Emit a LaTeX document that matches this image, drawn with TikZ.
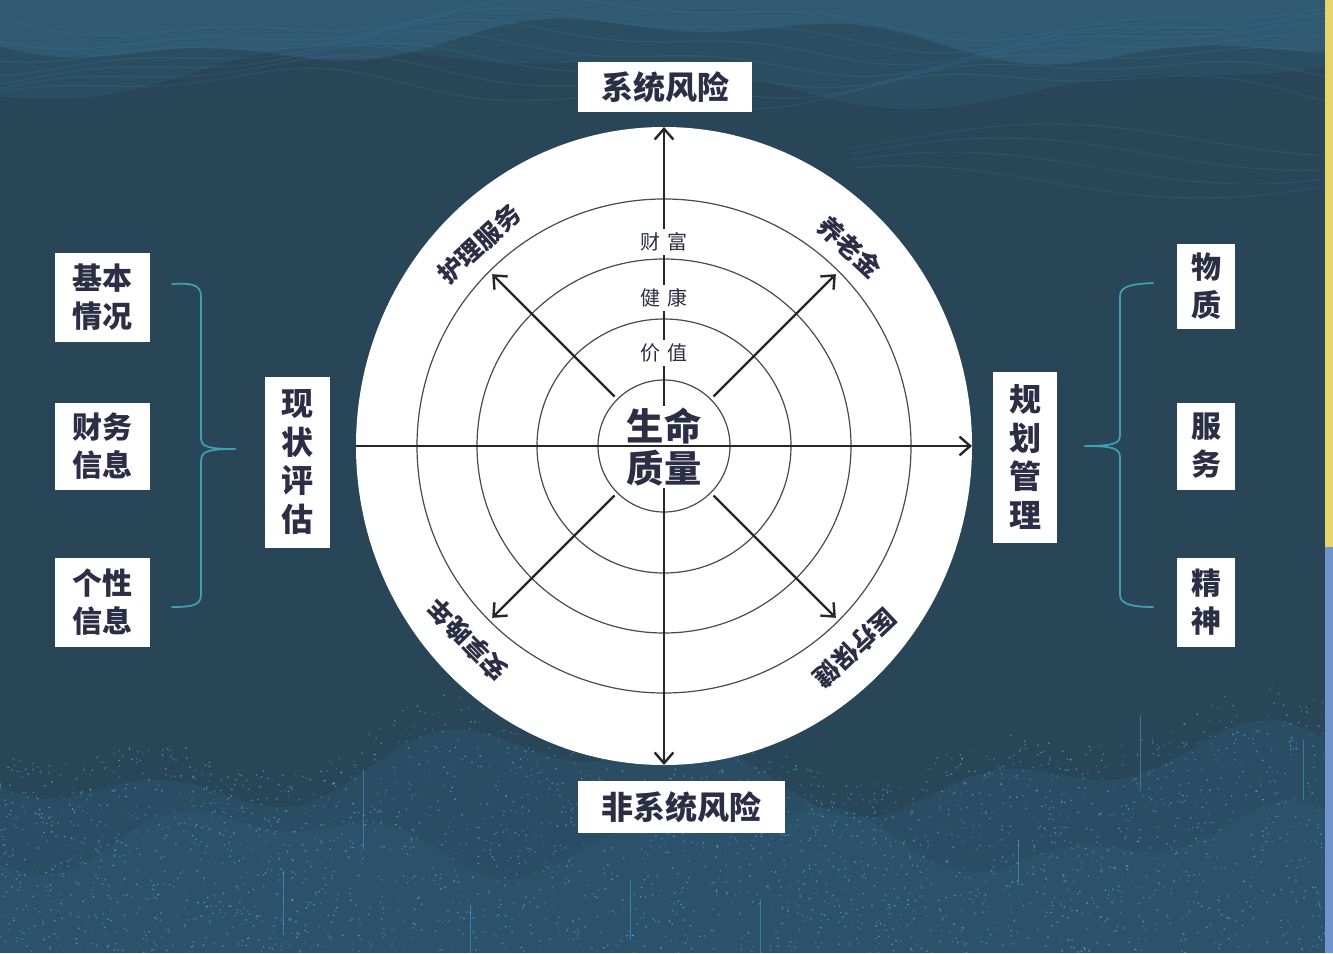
\documentclass[tikz,border=0pt]{standalone}
\usepackage{fontspec}
\setmainfont{Noto Sans CJK SC}
\usetikzlibrary{calc,arrows.meta}
\definecolor{bgc}{HTML}{284658}
\definecolor{txt}{HTML}{2B2E45}
\definecolor{brc}{HTML}{3FA0B2}
\definecolor{wavec}{HTML}{4A90C0}
\definecolor{dotc}{HTML}{6AB8EA}
\definecolor{glowc}{HTML}{3C7BA6}
\definecolor{ringc}{HTML}{4A4A4A}
\definecolor{stripy}{HTML}{E6D56C}
\definecolor{stripb}{HTML}{6F95CC}
\tikzset{
  box/.style={fill=white, text=txt, inner sep=0pt, align=center,
    font=\bfseries\fontsize{24}{29}\selectfont},
  sidebox/.style={box, font=\bfseries\fontsize{22.5}{28.5}\selectfont},
  ringlbl/.style={fill=white, text=txt, inner xsep=5pt, inner ysep=3pt,
    font=\fontsize{15}{18}\selectfont},
  arclbl/.style={text=txt, inner sep=0pt, font=\bfseries\fontsize{19}{22}\selectfont},
  ringline/.style={draw=ringc, line width=0.9pt},
  axisarrow/.style={draw=black!85, line width=1.8pt,
    -{Straight Barb[length=8pt,width=14pt,line width=1.8pt]}},
  axisline/.style={draw=black!85, line width=1.8pt},
  bracec/.style={draw=brc, line width=1.3pt, line cap=round},
}
\begin{document}
\begin{tikzpicture}[x=0.75pt,y=-0.75pt]
\useasboundingbox (0,0) rectangle (1333,953);
% background
\fill[bgc] (0,0) rectangle (1333,953);
\fill[wavec, opacity=0.18] (0,0) -- plot[domain=0:1333,samples=90] (\x,{40+18*sin(0.4*\x)+10*sin(1.1*\x+40)}) -- (1333,0) -- cycle;
\fill[wavec, opacity=0.10] (0,0) -- plot[domain=0:1333,samples=90] (\x,{75+25*sin(0.35*\x+120)+10*sin(0.9*\x)}) -- (1333,0) -- cycle;
\foreach \k in {0,...,6}{
  \draw[wavec, opacity=0.14, line width=1pt] plot[domain=0:1333,samples=90]
    (\x,{18+12*\k+16*sin(0.45*\x+25*\k)+7*sin(1.2*\x+40*\k)});
}
\foreach \k in {0,...,3}{
  \draw[wavec, opacity=0.12, line width=1pt] plot[domain=850:1333,samples=60]
    (\x,{140+14*\k+16*sin(0.6*\x+30*\k)});
}
% bottom glow
\fill[glowc, opacity=0.14] (0,953) -- plot[domain=0:1333,samples=90] (\x,{770+30*sin(0.5*\x)+20*sin(1.3*\x+60)}) -- (1333,953) -- cycle;
\fill[glowc, opacity=0.12] (0,953) -- plot[domain=0:1333,samples=90] (\x,{840+25*sin(0.7*\x+90)+15*sin(1.6*\x)}) -- (1333,953) -- cycle;
\pgfmathsetseed{42}
\foreach \i in {1,...,3000}{
  \pgfmathsetmacro{\qx}{1333*rnd}
  \pgfmathsetmacro{\ptop}{735+30*sin(0.5*\qx)+20*sin(1.3*\qx+60)}
  \pgfmathsetmacro{\qy}{\ptop+(953-\ptop)*rnd}
  \pgfmathsetmacro{\op}{0.2+0.5*rnd}
  \fill[dotc, opacity=\op] (\qx,\qy) circle (0.9);
}
\foreach \vx/\va/\vb in {363/770/850, 283/870/935, 630/880/940, 1018/840/885, 1140/715/790, 1303/740/800, 760/900/953, 470/905/953}{
  \draw[dotc, opacity=0.4, line width=0.6pt] (\vx,\va) -- (\vx,\vb);
}
\fill[stripy] (1325,0) rectangle (1333,547);
\fill[stripb] (1325,547) rectangle (1333,953);

% braces
\draw[bracec] (172,284) .. controls (190,283) and (201,284) .. (201,296) -- (201,437)
  .. controls (201,446) and (205,449) .. (235,449);
\draw[bracec] (235,449) .. controls (205,449) and (201,452) .. (201,462) -- (201,595)
  .. controls (201,606) and (190,607) .. (172,607);
\draw[bracec] (1153,283) .. controls (1135,284) and (1120,285) .. (1120,296) -- (1120,435)
  .. controls (1120,443) and (1115,446) .. (1085,446);
\draw[bracec] (1085,446) .. controls (1115,446) and (1120,449) .. (1120,458) -- (1120,595)
  .. controls (1120,605) and (1135,607) .. (1153,607);

% wheel
\coordinate (C) at (664,446);
\fill[white] (C) ellipse [x radius=308, y radius=319];
\draw[ringline] (C) circle (247);
\draw[ringline] (C) circle (187);
\draw[ringline] (C) circle (127);
\draw[ringline] (C) circle (66);

\coordinate (T) at (664,127);
\coordinate (B) at (664,765);
\coordinate (L) at (356,446);
\coordinate (R) at (972,446);
\draw[axisarrow] (C) -- (T);
\draw[axisarrow] (C) -- (B);
\foreach \a in {45,135,225,315}{
  \draw[axisarrow] ($(C)+(\a:70)$) -- ($(C)+(\a:243)$);
}

\node[ringlbl] (caifu) at (664,242) {财\hspace{0.35em}富};
\node[ringlbl] (jiankang) at (664,298) {健\hspace{0.35em}康};
\node[ringlbl] (jiazhi) at (664,353) {价\hspace{0.35em}值};

\node[fill=white, text=txt, inner sep=1pt, align=center,
  font=\bfseries\fontsize{28}{32}\selectfont] (core) at (664,447) {生命\\质量};
\draw[axisline] (L) -- (C);
\draw[axisarrow] (C) -- (R);

% note: y axis points down, so screen angle a is written as -a
\node[arclbl, rotate=42.5] (huli) at ($(C)+(-132.5:274)$) {护理服务};
\node[arclbl, rotate=-43] (yanglao) at ($(C)+(-47:272)$) {养老金};
\node[arclbl, rotate=134.6] (anxiang) at ($(C)+(-224.6:276)$) {安享晚年};
\node[arclbl, rotate=-136.6] (yiliao) at ($(C)+(46.6:278)$) {医疗保健};

% boxes
\node[box, minimum width=0.75*174pt, minimum height=0.75*50pt] (xt) at (665,87) {系统风险};
\node[box, minimum width=0.75*207pt, minimum height=0.75*52pt] (fxt) at (681,807) {非系统风险};
\node[box, minimum width=0.75*65pt, minimum height=0.75*171pt] (xz) at (297,462) {现\\状\\评\\估};
\node[box, minimum width=0.75*64pt, minimum height=0.75*171pt] (gh) at (1025,457) {规\\划\\管\\理};
\node[sidebox, minimum width=0.75*95pt, minimum height=0.75*89pt] (jb) at (102,297) {基本\\情况};
\node[sidebox, minimum width=0.75*95pt, minimum height=0.75*87pt] (cw) at (102,446) {财务\\信息};
\node[sidebox, minimum width=0.75*95pt, minimum height=0.75*89pt] (gx) at (102,602) {个性\\信息};
\node[sidebox, minimum width=0.75*58pt, minimum height=0.75*85pt] (wz) at (1206,286) {物\\质};
\node[sidebox, minimum width=0.75*58pt, minimum height=0.75*87pt] (fw) at (1206,446) {服\\务};
\node[sidebox, minimum width=0.75*58pt, minimum height=0.75*89pt] (js) at (1206,602) {精\\神};
\end{tikzpicture}
\end{document}
